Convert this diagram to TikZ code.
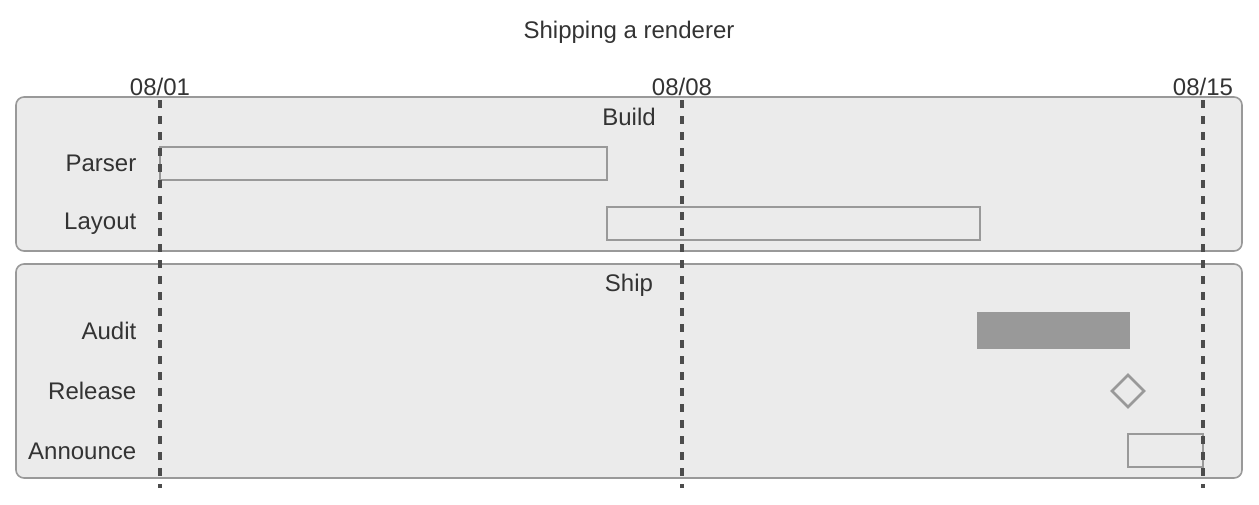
\documentclass[tikz,border=0pt]{standalone}
\usepackage{fontspec}
\setmainfont{Liberation Sans}
\usetikzlibrary{shapes.geometric}
\begin{document}
\begin{tikzpicture}[x=0.75pt,y=-0.75pt,
  panel/.style={draw=black!40,fill=black!8,line width=1.2pt,rounded corners=6pt},
  bar/.style={draw=black!40,fill=black!8,line width=2pt},
  lbl/.style={anchor=east,font=\fontsize{18}{20}\selectfont,text=black!80},
  txt/.style={font=\fontsize{18}{20}\selectfont,text=black!80},
  grid/.style={draw=black!70,line width=2.5pt,dash pattern=on 6pt off 6pt}]
\useasboundingbox (0,0) rectangle (1259,504);
\node[txt] (title) at (629,32) {Shipping a renderer};
\node[txt] (d1) at (160,87) {08/01};
\node[txt] (d2) at (682,87) {08/08};
\node[txt] (d3) at (1203,87) {08/15};
\draw[panel] (16,97) rectangle (1242,251);
\draw[panel] (16,264) rectangle (1242,478);
\node[txt] (build) at (629,117) {Build};
\node[txt] (ship) at (629,285) {Ship};
\node[lbl] (lp) at (141,163) {Parser};
\node[lbl] (ll) at (141,224) {Layout};
\node[lbl] (la) at (141,331) {Audit};
\node[lbl] (lr) at (141,391) {Release};
\node[lbl] (ln) at (141,451) {Announce};
\draw[bar] (160,147) rectangle (607,180);
\draw[bar] (607,207) rectangle (980,240);
\draw[bar,fill=black!40] (978,313) rectangle (1129,348);
\draw[bar] (1128,375) -- (1144,391) -- (1128,407) -- (1112,391) -- cycle;
\draw[bar] (1128,434) rectangle (1203,467);
\draw[grid] (160,100) -- (160,488);
\draw[grid] (682,100) -- (682,488);
\draw[grid] (1203,100) -- (1203,488);
\end{tikzpicture}
\end{document}
